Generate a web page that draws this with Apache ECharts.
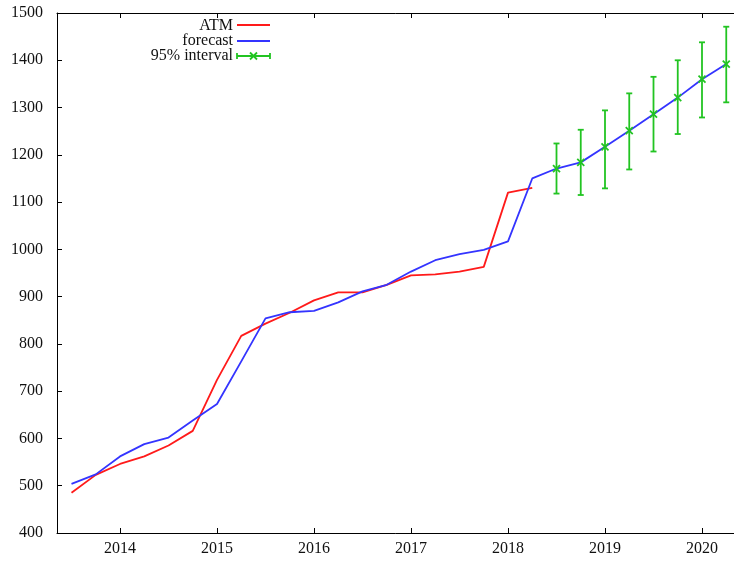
<!DOCTYPE html>
<html>
<head>
<meta charset="utf-8">
<script src="https://cdn.jsdelivr.net/npm/echarts@6/dist/echarts.min.js"></script>
<style>html,body{margin:0;padding:0;background:#fff;}#c{width:734px;height:561px;}</style>
</head>
<body>
<div id="c"></div>
<script>
// Quarterly time points (decimal years)
const quarters = [2013.5, 2013.75, 2014, 2014.25, 2014.5, 2014.75, 2015, 2015.25, 2015.5, 2015.75,
  2016, 2016.25, 2016.5, 2016.75, 2017, 2017.25, 2017.5, 2017.75, 2018, 2018.25,
  2018.5, 2018.75, 2019, 2019.25, 2019.5, 2019.75, 2020, 2020.25];
// Observed ATM series (2013.5 .. 2018.25)
const atm = [485, 523, 546, 562, 585, 616, 724, 817, 843, 866,
  892, 909, 909, 925, 945, 947, 953, 963, 1120, 1130];
// Fitted + forecast series (2013.5 .. 2020.25)
const forecast = [504, 524, 562, 588, 602, 638, 673, 763, 854, 867,
  870, 888, 911, 925, 953, 977, 990, 999, 1017, 1150,
  1171, 1184, 1217, 1251, 1286, 1321, 1360, 1392];
// 95% interval for the forecast horizon (2018.5 .. 2020.25)
const intervalLow = [1118, 1115, 1129, 1169, 1207, 1244, 1279, 1311];
const intervalHigh = [1224, 1253, 1294, 1330, 1365, 1400, 1438, 1471];
const xTickValues = [2014, 2015, 2016, 2017, 2018, 2019, 2020];

const RED = '#ff1a1a', BLUE = '#3434ff', GREEN = '#22c422';
const FONT = '"Liberation Serif", "DejaVu Serif", serif';
const TXT = '#111';

const atmData = atm.map((v, i) => [quarters[i], v]);
const fcData = forecast.map((v, i) => [quarters[i], v]);
const off = quarters.length - intervalLow.length;
const ivData = intervalLow.map((lo, i) => [quarters[off + i], lo, intervalHigh[i], forecast[off + i]]);

const chart = echarts.init(document.getElementById('c'), null, {renderer: 'canvas'});
const xMin = 2014 - 63 / 97;
const xMax = xMin + 706 / 97;
const axisCommon = {
  type: 'value', min: xMin, max: xMax,
  axisLine: {show: true, lineStyle: {color: '#000', width: 1}},
  splitLine: {show: false},
};
chart.setOption({
  animation: false,
  backgroundColor: '#fff',
  grid: {left: 57, top: 13, width: 706, height: 520, containLabel: false, outerBoundsMode: 'none'},
  xAxis: [
    Object.assign({}, axisCommon, {
      position: 'bottom',
      axisTick: {show: true, inside: true, length: 5, customValues: xTickValues, lineStyle: {color: '#000'}},
      axisLabel: {show: true, customValues: xTickValues, margin: 8, color: TXT, fontFamily: FONT, fontSize: 16,
        formatter: v => String(Math.round(v))}
    }),
    Object.assign({}, axisCommon, {
      position: 'top',
      axisTick: {show: true, inside: true, length: 5, customValues: xTickValues, lineStyle: {color: '#000'}},
      axisLabel: {show: false}
    })
  ],
  yAxis: {
    type: 'value', min: 400, max: 1500, interval: 100,
    axisLine: {show: true, lineStyle: {color: '#000', width: 1}},
    axisTick: {show: true, inside: true, length: 5, lineStyle: {color: '#000'}},
    axisLabel: {margin: 14, color: TXT, fontFamily: FONT, fontSize: 16, formatter: v => String(v)},
    splitLine: {show: false}
  },
  series: [
    {name: 'ATM', type: 'line', data: atmData, showSymbol: false, symbol: 'none',
      lineStyle: {color: RED, width: 1.8}, itemStyle: {color: RED}, z: 2},
    {name: 'forecast', type: 'line', data: fcData, showSymbol: false, symbol: 'none',
      lineStyle: {color: BLUE, width: 1.8}, itemStyle: {color: BLUE}, z: 3},
    {name: '95% interval', type: 'custom', data: ivData, z: 4,
      encode: {x: 0, y: [1, 2]},
      renderItem: function (params, api) {
        const x = api.value(0);
        const pLo = api.coord([x, api.value(1)]);
        const pHi = api.coord([x, api.value(2)]);
        const pM = api.coord([x, api.value(3)]);
        const cap = 3, s = 3.5;
        const st = {stroke: GREEN, lineWidth: 1.8};
        const ln = (x1, y1, x2, y2) => ({type: 'line', shape: {x1, y1, x2, y2}, style: st});
        return {type: 'group', children: [
          ln(pLo[0], pLo[1], pHi[0], pHi[1]),
          ln(pLo[0] - cap, pLo[1], pLo[0] + cap, pLo[1]),
          ln(pHi[0] - cap, pHi[1], pHi[0] + cap, pHi[1]),
          ln(pM[0] - s, pM[1] - s, pM[0] + s, pM[1] + s),
          ln(pM[0] - s, pM[1] + s, pM[0] + s, pM[1] - s)
        ]};
      }
    }
  ],
  graphic: [
    {type: 'text', style: {text: 'ATM', x: 233, y: 26, align: 'right', verticalAlign: 'middle', font: '16px ' + FONT, fill: TXT}},
    {type: 'line', shape: {x1: 237, y1: 25, x2: 270, y2: 25}, style: {stroke: RED, lineWidth: 1.8}},
    {type: 'text', style: {text: 'forecast', x: 233, y: 41, align: 'right', verticalAlign: 'middle', font: '16px ' + FONT, fill: TXT}},
    {type: 'line', shape: {x1: 237, y1: 41, x2: 270, y2: 41}, style: {stroke: BLUE, lineWidth: 1.8}},
    {type: 'text', style: {text: '95% interval', x: 233, y: 56, align: 'right', verticalAlign: 'middle', font: '16px ' + FONT, fill: TXT}},
    {type: 'line', shape: {x1: 237, y1: 56, x2: 270, y2: 56}, style: {stroke: GREEN, lineWidth: 1.8}},
    {type: 'line', shape: {x1: 237, y1: 53, x2: 237, y2: 59}, style: {stroke: GREEN, lineWidth: 1.8}},
    {type: 'line', shape: {x1: 270, y1: 53, x2: 270, y2: 59}, style: {stroke: GREEN, lineWidth: 1.8}},
    {type: 'line', shape: {x1: 250, y1: 52.5, x2: 257, y2: 59.5}, style: {stroke: GREEN, lineWidth: 1.8}},
    {type: 'line', shape: {x1: 250, y1: 59.5, x2: 257, y2: 52.5}, style: {stroke: GREEN, lineWidth: 1.8}}
  ]
});
</script>
</body>
</html>
